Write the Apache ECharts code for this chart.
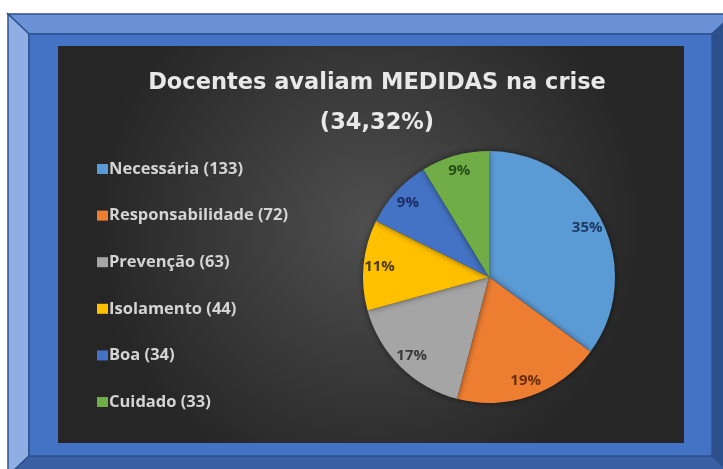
<!DOCTYPE html>
<html>
<head>
<meta charset="utf-8">
<script src="https://cdn.jsdelivr.net/npm/echarts@6/dist/echarts.min.js"></script>
<style>
  html, body { margin: 0; padding: 0; background: #fff; }
  #chart { width: 723px; height: 469px; }
</style>
</head>
<body>
<div id="chart"></div>
<script>
const categories = ['Necessária', 'Responsabilidade', 'Prevenção', 'Isolamento', 'Boa', 'Cuidado']
const counts = [133, 72, 63, 44, 34, 33]
const sliceColors = ['#5b9bd5', '#ed7d31', '#a5a5a5', '#ffc000', '#4472c4', '#70ad47']
const labelColors = ['#1f3864', '#6b2f05', '#3a3a3a', '#4d3a00', '#1a2f66', '#264d17']
const titleText = 'Docentes avaliam MEDIDAS na crise\n(34,32%)'

const chart = echarts.init(document.getElementById('chart'))

const pieData = categories.map((name, i) => ({
  name: name,
  value: counts[i],
  itemStyle: { color: sliceColors[i] }
}))
const labelData = categories.map((name, i) => ({
  name: name,
  value: counts[i],
  label: { color: labelColors[i] }
}))

chart.setOption({
  animation: false,
  graphic: [
    // moldura azul
    { type: 'polygon', z: -10, shape: { points: [[8, 14], [733, 14], [712, 34], [29, 34]] },
      style: { fill: '#6a90d5', stroke: '#2f528f', lineWidth: 1.5 } },
    { type: 'polygon', z: -10, shape: { points: [[8, 14], [29, 34], [29, 456], [8, 476]] },
      style: { fill: '#8faee3', stroke: '#2f528f', lineWidth: 1.5 } },
    { type: 'polygon', z: -10, shape: { points: [[733, 14], [733, 476], [712, 456], [712, 34]] },
      style: { fill: '#2d4f8c', stroke: '#2f528f', lineWidth: 1.5 } },
    { type: 'polygon', z: -10, shape: { points: [[8, 476], [29, 456], [712, 456], [733, 476]] },
      style: { fill: '#3a5fa2', stroke: '#2f528f', lineWidth: 1.5 } },
    { type: 'rect', z: -10, shape: { x: 29, y: 34, width: 683, height: 422 },
      style: { fill: '#4472c4', stroke: '#2f528f', lineWidth: 1.5 } },
    // fundo do gráfico
    { type: 'rect', z: -9, shape: { x: 58, y: 46, width: 626, height: 397 },
      style: {
        fill: new echarts.graphic.RadialGradient(0.5, 0.45, 0.7, [
          { offset: 0, color: '#4f4f4f' },
          { offset: 1, color: '#262626' }
        ])
      } }
  ],
  title: {
    text: titleText,
    left: 372,
    top: 58,
    textAlign: 'center',
    textStyle: {
      fontFamily: 'DejaVu Sans',
      fontWeight: 'bold',
      fontSize: 22.5,
      lineHeight: 40,
      color: '#e8e8e8'
    }
  },
  legend: {
    orient: 'vertical',
    left: 92,
    top: 155,
    itemWidth: 11,
    itemHeight: 10,
    itemGap: 28.6,
    icon: 'rect',
    selectedMode: false,
    data: categories,
    formatter: name => name + ' (' + counts[categories.indexOf(name)] + ')',
    textStyle: {
      fontFamily: 'Open Sans',
      fontWeight: 'bold',
      fontSize: 16.5,
      lineHeight: 18,
      color: '#d4d4d4',
      padding: [0, 0, 0, -4]
    }
  },
  series: [
    {
      type: 'pie',
      center: [489, 277],
      radius: 126,
      startAngle: 90,
      clockwise: true,
      silent: true,
      label: { show: false },
      labelLine: { show: false },
      itemStyle: {
        shadowBlur: 6,
        shadowColor: 'rgba(0,0,0,0.5)'
      },
      data: pieData
    },
    {
      type: 'pie',
      center: [489, 277],
      radius: [88, 126],
      startAngle: 90,
      clockwise: true,
      silent: true,
      legendHoverLink: false,
      percentPrecision: 0,
      itemStyle: { color: 'rgba(0,0,0,0)' },
      label: {
        show: true,
        position: 'inside',
        formatter: '{d}%',
        fontFamily: 'Open Sans',
        fontWeight: 'bold',
        fontSize: 15
      },
      labelLine: { show: false },
      data: labelData
    }
  ]
})
</script>
</body>
</html>
